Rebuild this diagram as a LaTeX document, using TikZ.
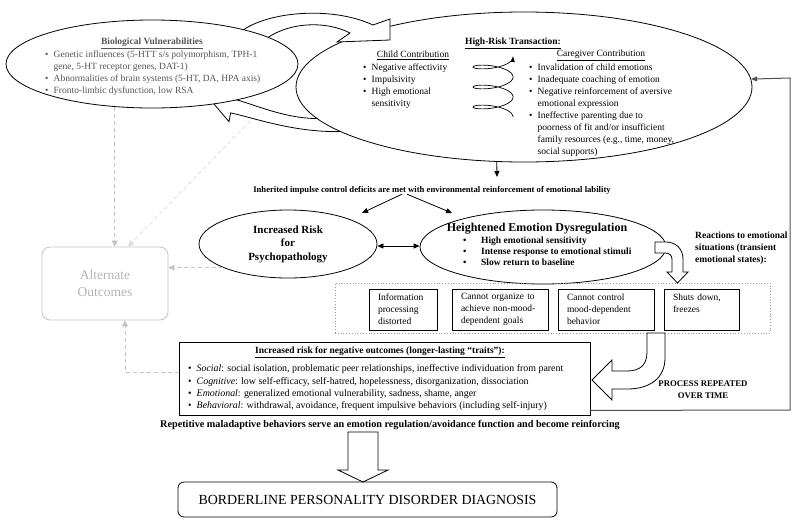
\documentclass[tikz,border=0pt]{standalone}
\usepackage{fontspec}
\setmainfont{Liberation Serif}
\usetikzlibrary{shapes.geometric,arrows.meta,calc}
\definecolor{biogray}{HTML}{555555}
\definecolor{dgray}{HTML}{C4C4C4}
\definecolor{altgray}{HTML}{B4B4B4}
\definecolor{faintgray}{HTML}{DDDDDD}
\definecolor{retgray}{HTML}{505050}
\definecolor{dotgray}{HTML}{999999}
\newcommand{\fsn}{\fontsize{9.5}{12}\selectfont}
\newcommand{\mybul}{\makebox[8.5pt][l]{\textbullet}}
\newcommand{\myind}{\hspace*{8.5pt}}
\newcommand{\mybulw}{\makebox[18pt][l]{\textbullet}}
\begin{document}
\begin{tikzpicture}[x=1pt,y=-1pt,
  ell/.style={ellipse, draw=black, line width=0.8pt, fill=white, inner sep=0pt},
  txt/.style={inner sep=0pt, align=left, font=\fsn},
  blockarrow/.style={draw=black, line width=0.8pt, fill=white, line join=miter},
  arr/.style={line width=0.8pt, -{Triangle[length=6pt,width=5pt]}},
  gdash/.style={draw=dgray, line width=0.8pt, dash pattern=on 4pt off 3pt, -{Triangle[length=6pt,width=6pt]}, color=dgray},
  rbox/.style={draw, line width=0.8pt, minimum height=41pt, inner xsep=9pt, inner ysep=0pt, align=left, font=\fsn},
  retline/.style={draw=retgray, line width=1pt, -{Triangle[length=6pt,width=5pt]}}
]
\useasboundingbox (0,0) rectangle (800,525);
\fill[white] (0,0) rectangle (800,525);

% lower curved arrow (transaction -> biology)
\draw[blockarrow] (352,131) .. controls (300,135) and (255,118) .. (230.6,112.9) -- (229,121.7) -- (214,104) -- (235,90.3) -- (233.4,99.1) .. controls (255,104) and (290,122) .. (330,118) -- cycle;

% transaction ellipse
\node[ell, minimum width=456pt, minimum height=150pt] (trans) at (524,87) {};

% upper curved arrow (biology -> transaction)
\draw[blockarrow] (238,34) .. controls (262,12) and (330,5) .. (373,25) -- (390,19) -- (390,40) -- (337,42) -- (350,33) .. controls (325,20) and (285,22) .. (262,42) -- cycle;

% biology ellipse
\node[ell, minimum width=292pt, minimum height=88pt] (bio) at (152,64) {};
\node[txt, font=\fsn\bfseries, text=biogray] (biotitle) at (152,43) {\underline{Biological Vulnerabilities}};
\node[txt, text=biogray, anchor=north west] (biolist) at (45,48.6) {\strut\mybul Genetic influences (5-HTT s/s polymorphism, TPH-1\\\myind gene, 5-HT receptor genes, DAT-1)\\\mybul Abnormalities of brain systems (5-HT, DA, HPA axis)\\\mybul Fronto-limbic dysfunction, low RSA};

% transaction texts
\node[txt, font=\fsn\bfseries] (hrt) at (513,43) {\underline{High-Risk Transaction:}};
\node[txt] (childt) at (413,55) {\underline{Child Contribution}};
\node[txt, anchor=north west] (childl) at (363,61.6) {\strut\mybul Negative affectivity\\\mybul Impulsivity\\\mybul High emotional\\\myind sensitivity};
\node[txt] (caret) at (601,55) {\underline{Caregiver Contribution}};
\node[txt, anchor=north west] (carel) at (529,61.6) {\strut\mybul Invalidation of child emotions\\\mybul Inadequate coaching of emotion\\\mybul Negative reinforcement of aversive\\\myind emotional expression\\\mybul Ineffective parenting due to\\\myind poorness of fit and/or insufficient\\\myind family resources (e.g., time, money,\\\myind social supports)};
\draw[line width=0.7pt, -{Triangle[length=5pt,width=4pt]}] plot[domain=0:1080, samples=240, smooth, variable=\s] ({493+20*cos(\s)}, {117-\s/18-6*sin(\s)});

% inherited
\coordinate (inhtop) at (497,177);
\draw[arr] (trans.250) -- (inhtop);
\node[txt, font=\fontsize{8.65}{11}\selectfont\bfseries] (inh) at (432,190) {Inherited impulse control deficits are met with environmental reinforcement of emotional lability};

% middle ellipses
\node[ell, minimum width=178pt, minimum height=68pt, font=\fontsize{11}{13.5}\selectfont\bfseries, align=center] (risk) at (288,244) {Increased Risk\\for\\Psychopathology};
\node[ell, minimum width=246pt, minimum height=74pt] (emo) at (543,247) {};
\node[txt, font=\fontsize{12}{14}\selectfont\bfseries] (emot) at (537,229) {Heightened Emotion Dysregulation};
\node[txt, font=\fontsize{9.5}{11}\selectfont\bfseries, anchor=north west] (emol) at (463,235.8) {\strut\mybulw High emotional sensitivity\\\mybulw Intense response to emotional stimuli\\\mybulw Slow return to baseline};

\coordinate (riskin) at (362,213);
\coordinate (emoin) at (452,213);
\draw[arr] ([xshift=-30pt]inh.south) -- (riskin);
\draw[arr] ([xshift=-25pt]inh.south) -- (emoin);
\draw[line width=0.8pt, {Triangle[length=6pt,width=5pt]}-{Triangle[length=6pt,width=5pt]}] ([yshift=-2pt]risk.east) -- ([yshift=-2pt]risk.east -| emo.west);

% reactions
\node[txt, font=\fsn\bfseries, anchor=north west] (react) at (695,229.6) {\strut Reactions to emotional\\situations (transient\\emotional states):};
\node[draw=dotgray, dotted, line width=0.8pt, minimum width=435pt, minimum height=50pt, inner sep=0pt] (dots) at (552.5,308) {};
\node[rbox, text width=50pt] (b1) at (403,309.5) {Information\\processing\\distorted};
\node[rbox, text width=78pt] (b2) at (500,309.5) {Cannot organize to\\achieve non-mood-\\dependent goals};
\node[rbox, text width=78pt] (b3) at (606,309.5) {Cannot control\\mood-dependent\\behavior};
\node[rbox, text width=57pt] (b4) at (701.5,309.5) {Shuts down,\\freezes\\~};

% bent arrow emo -> b4
\draw[blockarrow] (655,242) -- (666,242) .. controls (676,242) and (683,249) .. (683,259) -- (683,272) -- (688,272) -- (677.5,283) -- (667,272) -- (672,272) -- (672,259) .. controls (672,255) and (669,253) .. (665,253) -- (655,253) -- cycle;

% outcomes box
\node[draw, line width=0.9pt, minimum width=411pt, minimum height=73pt, inner sep=0pt] (out) at (384.5,378.5) {};
\node[txt, font=\fsn\bfseries] (outt) at (380,352) {\underline{Increased risk for negative outcomes (longer-lasting “traits”):}};
\node[txt, font=\fontsize{9.9}{12.3}\selectfont, anchor=north west] (outl) at (188,362.9) {\strut\mybul\textit{Social}: social isolation, problematic peer relationships, ineffective individuation from parent\\\mybul\textit{Cognitive}: low self-efficacy, self-hatred, hopelessness, disorganization, dissociation\\\mybul\textit{Emotional}: generalized emotional vulnerability, sadness, shame, anger\\\mybul\textit{Behavioral}: withdrawal, avoidance, frequent impulsive behaviors (including self-injury)};

% bent arrow dots -> out
\draw[blockarrow] (665,333) -- (665,358) .. controls (665,378) and (650,389) .. (627,389) -- (612,389) -- (612,400) -- (592,380) -- (612,360) -- (612,371) -- (627,371) .. controls (640,371) and (647,365) .. (647,352) -- (647,333) -- cycle;
\node[txt, font=\fontsize{8.7}{12}\selectfont\bfseries, align=center] (proc) at (703,390) {PROCESS REPEATED\\OVER TIME};

% return line
\coordinate (rl1) at (790,410);
\coordinate (rl2) at (790,78);
\draw[retline] ([yshift=5pt]out.south east) -- (rl1) -- (rl2) -- (trans.2.3);

% alternate outcomes
\node[draw=dgray, line width=0.8pt, rounded corners=8pt, minimum width=126pt, minimum height=73pt, text=altgray, font=\fontsize{13.5}{17}\selectfont, align=center] (alt) at (105,283.5) {Alternate\\Outcomes};
\draw[gdash] (bio.229) -- (bio.229 |- alt.north);
\coordinate (dg) at (250,121);
\draw[gdash, draw=faintgray, color=faintgray] (dg) -- ([xshift=23pt]alt.north);
\draw[gdash] (risk.200) -- (risk.200 -| alt.east);
\coordinate (oc) at (125,372);
\draw[gdash] ([yshift=6.5pt]out.west) -- (oc) -- (oc |- alt.south);

% bottom
\node[txt, font=\fontsize{10.2}{12}\selectfont\bfseries] (rep) at (390,425) {Repetitive maladaptive behaviors serve an emotion regulation/avoidance function and become reinforcing};
\draw[blockarrow] (348,432) -- (378,432) -- (378,470) -- (388,470) -- (363,482) -- (338,470) -- (348,470) -- cycle;
\node[draw, line width=0.8pt, rounded corners=6pt, minimum width=379pt, minimum height=35pt, font=\fontsize{13.9}{16}\selectfont] (bpd) at (367.5,499.5) {BORDERLINE PERSONALITY DISORDER DIAGNOSIS};
\end{tikzpicture}
\end{document}
